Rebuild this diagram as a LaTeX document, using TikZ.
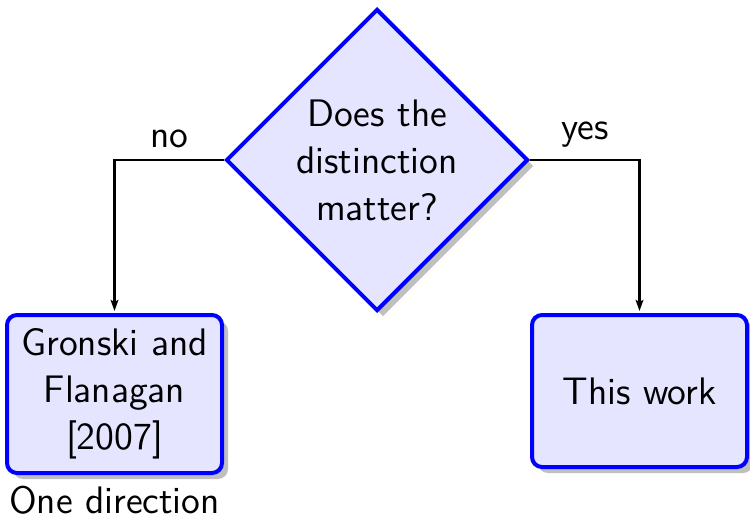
\documentclass[tikz,border=0pt]{standalone}
\usetikzlibrary{shapes.geometric,shadows,arrows.meta}
\begin{document}
\begin{tikzpicture}[x=0.3pt,y=0.3pt,
  every node/.style={font=\sffamily\fontsize{11.5}{14.1}\selectfont},
  shadowed/.style={drop shadow={shadow xshift=1.8pt,shadow yshift=-1.8pt,fill=black!25,opacity=1}},
  decision/.style={diamond,draw=blue,line width=1.2pt,fill=blue!10,inner sep=0pt,
    minimum width=90.6pt,minimum height=90.6pt,align=center,shadowed},
  outcome/.style={rectangle,draw=blue,line width=1.2pt,fill=blue!10,rounded corners=3pt,
    minimum width=64.5pt,align=center,inner sep=0pt,shadowed},
  conn/.style={draw=black,line width=0.65pt,-{Stealth[length=3.3pt,width=2.3pt,inset=0.6pt]},shorten >=0.6pt}
]
\useasboundingbox (0,0) rectangle (750,-517);
\node[decision] (q) at (377,-160) {Does the\\distinction\\matter?};
\node[outcome,minimum height=47.4pt] (gf) at (114.5,-394) {Gronski and\\Flanagan\\{[2007]}};
\node[outcome,minimum height=45.6pt] (tw) at (639.5,-391) {This work};
\node (od) at (114.5,-500) {One direction};
\draw[conn] (q.west) -| node[pos=0.25,above] {no} (gf.north);
\draw[conn] (q.east) -| node[pos=0.25,above] {yes} (tw.north);
\end{tikzpicture}
\end{document}
